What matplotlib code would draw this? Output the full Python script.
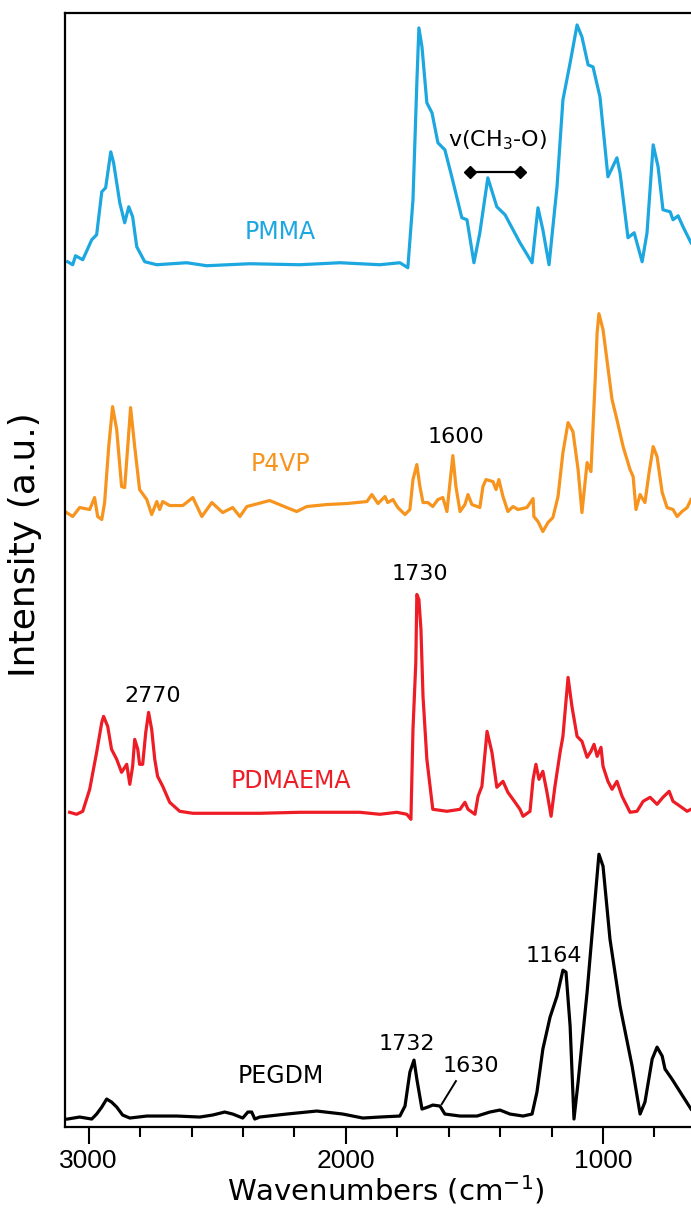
import matplotlib
matplotlib.use("Agg")
import matplotlib.pyplot as plt
from matplotlib.ticker import MultipleLocator

# ---- data (wavenumber in cm-1, intensity in a.u. relative to each spectrum's baseline) ----
pmma_wn = [3082, 3062, 3051, 3023, 2988, 2969, 2949, 2934, 2914, 2903, 2879, 2860, 2844, 2829, 2813,
           2782, 2735, 2619, 2541, 2374, 2179, 2023, 1868, 1790, 1759, 1739, 1724, 1716, 1704, 1685,
           1665, 1642, 1615, 1588, 1549, 1529, 1502, 1479, 1448, 1413, 1381, 1323, 1276, 1253, 1234,
           1210, 1179, 1156, 1128, 1101, 1082, 1058, 1039, 1012, 981, 946, 934, 903, 879, 848, 829,
           805, 786, 767, 739, 728, 708, 689, 658]
pmma_int = [3, 0, 9, 5, 25, 30, 73, 77, 113, 102, 62, 42, 58, 48, 18,
            3, 0, 2, -1, 1, 0, 2, 0, 2, -3, 65, 182, 237, 218, 162,
            152, 122, 115, 88, 47, 45, 2, 32, 87, 58, 50, 22, 2, 57, 35,
            0, 78, 165, 202, 240, 228, 200, 198, 168, 88, 107, 92, 27, 32, 3, 32,
            120, 98, 55, 53, 45, 49, 38, 22]

p4vp_wn = [3086, 3062, 3035, 2996, 2977, 2965, 2949, 2938, 2922, 2907, 2891, 2872, 2860, 2848, 2837,
           2821, 2802, 2774, 2755, 2735, 2724, 2712, 2685, 2634, 2595, 2560, 2521, 2479, 2440, 2412,
           2385, 2296, 2230, 2191, 2152, 2074, 1996, 1918, 1899, 1875, 1848, 1837, 1817, 1798, 1770,
           1751, 1739, 1724, 1712, 1700, 1681, 1662, 1642, 1623, 1607, 1595, 1584, 1572, 1556, 1537,
           1525, 1510, 1479, 1467, 1455, 1428, 1416, 1405, 1389, 1370, 1350, 1331, 1296, 1272, 1269,
           1253, 1234, 1214, 1195, 1175, 1156, 1136, 1117, 1097, 1082, 1062, 1047, 1031, 1023, 1016,
           1000, 985, 965, 946, 922, 895, 883, 872, 856, 837, 821, 805, 790, 770, 751,
           728, 712, 693, 673, 658]
p4vp_int = [-5, -9, 0, -2, 10, -9, -12, 5, 61, 101, 78, 21, 20, 61, 100,
            61, 18, 8, -7, 6, -2, 6, 2, 2, 10, -9, 5, -5, 0, -9,
            1, 7, 0, -4, 1, 3, 4, 6, 13, 4, 11, 5, 8, 0, -7,
            -2, 28, 43, 21, 5, 5, 1, 8, 10, -4, 25, 52, 21, -4, 3,
            13, 3, 0, 21, 28, 26, 18, 28, 11, -4, 1, -2, 0, 9, -9,
            -14, -24, -15, -10, 11, 55, 85, 76, 38, -5, 45, 36, 125, 175, 194,
            178, 148, 108, 88, 61, 38, 31, -2, 13, 5, 35, 61, 51, 15, 0,
            -2, -9, -4, 0, 8]

pdmaema_wn = [3074, 3047, 3023, 2996, 2969, 2949, 2942, 2926, 2911, 2891, 2872, 2852, 2840, 2829, 2821,
              2809, 2802, 2790, 2778, 2767, 2755, 2743, 2732, 2712, 2685, 2646, 2595, 2335, 2179, 1946,
              1868, 1802, 1763, 1747, 1739, 1728, 1724, 1716, 1708, 1700, 1685, 1662, 1607, 1556, 1537,
              1525, 1498, 1486, 1471, 1451, 1432, 1413, 1389, 1370, 1342, 1323, 1311, 1284, 1272, 1261,
              1249, 1234, 1218, 1202, 1187, 1167, 1156, 1136, 1121, 1101, 1082, 1062, 1047, 1035, 1023,
              1008, 1000, 981, 965, 946, 926, 895, 868, 844, 817, 790, 767, 743, 728, 700,
              673, 658]
pdmaema_int = [1, -1, 2, 24, 61, 91, 97, 87, 64, 54, 41, 49, 29, 47, 74,
               64, 49, 49, 81, 101, 84, 54, 37, 27, 11, 2, 0, 0, 1, 1,
               -1, 1, -1, -6, 84, 151, 219, 214, 184, 117, 54, 4, 2, 4, 11,
               4, -1, 17, 27, 82, 61, 26, 32, 21, 11, 4, -3, 2, 34, 49,
               34, 42, 21, -3, 27, 61, 77, 136, 107, 77, 72, 56, 62, 69, 57,
               66, 47, 32, 24, 32, 17, 1, 2, 12, 16, 9, 16, 22, 12, 7,
               2, 4]

pegdm_wn = [3082, 3035, 2988, 2969, 2949, 2930, 2911, 2891, 2868, 2840, 2774, 2658, 2568, 2518, 2471,
            2440, 2401, 2381, 2366, 2354, 2335, 2230, 2113, 2012, 1934, 1868, 1790, 1770, 1751, 1735,
            1724, 1704, 1681, 1662, 1634, 1615, 1556, 1490, 1440, 1401, 1362, 1311, 1276, 1257, 1234,
            1206, 1179, 1156, 1144, 1128, 1113, 1097, 1062, 1031, 1016, 1000, 973, 934, 887, 856,
            837, 809, 790, 770, 759, 732, 700, 658]
pegdm_int = [-2, 0, -2, 3, 10, 18, 15, 10, 2, -1, 1, 1, 0, 2, 5,
             3, -1, 5, 5, -2, 0, 3, 6, 3, -1, 0, 1, 11, 45, 57,
             38, 8, 10, 12, 11, 3, 1, 1, 5, 7, 3, 1, 3, 25, 68,
             100, 121, 147, 145, 91, -2, 35, 125, 218, 263, 251, 178, 111, 51, 3,
             15, 58, 70, 61, 48, 38, 25, 8]

series_names = ["PMMA", "P4VP", "PDMAEMA", "PEGDM"]
series_wn = [pmma_wn, p4vp_wn, pdmaema_wn, pegdm_wn]
series_int = [pmma_int, p4vp_int, pdmaema_int, pegdm_int]

x_major_ticks = [3000, 2000, 1000]

# ---- layout / style ----
colors = ["#1CA7E0", "#F7941E", "#EE1C25", "#000000"]
offsets = [863, 620, 314, 10]
label_pos = [(2257, 896), (2253, 664), (2214, 346), (2253, 51)]

fig = plt.figure(figsize=(6.91, 12.09), dpi=100)
ax = fig.add_axes([65 / 691, 0.0678, 1 - 65 / 691, 0.9215])

for name, wn, inten, c, off, lp in zip(series_names, series_wn, series_int, colors, offsets, label_pos):
    ax.plot(wn, [v + off for v in inten], color=c, lw=2.3, solid_joinstyle="round")
    ax.text(lp[0], lp[1], name, color=c, fontsize=17, ha="center", va="center",
            family="DejaVu Sans")

ann_fs = 16
ax.text(1412, 988, r"v(CH$_3$-O)", fontsize=ann_fs, ha="center", va="center")
ax.plot([1518, 1323], [956, 956], color="black", lw=1.6, marker="D", markersize=6)
ax.text(1572, 691, "1600", fontsize=ann_fs, ha="center", va="center")
ax.text(2751, 431, "2770", fontsize=ann_fs, ha="center", va="center")
ax.text(1712, 553, "1730", fontsize=ann_fs, ha="center", va="center")
ax.text(1763, 83, "1732", fontsize=ann_fs, ha="center", va="center")
ax.text(1514, 61, "1630", fontsize=ann_fs, ha="center", va="center")
ax.plot([1572, 1627], [46, 23], color="black", lw=1.4)
ax.text(1191, 171, "1164", fontsize=ann_fs, ha="center", va="center")

ax.set_xlim(3092, 658)
ax.set_ylim(0, 1115)
ax.set_yticks([])
ax.xaxis.set_major_locator(plt.FixedLocator(x_major_ticks))
ax.xaxis.set_minor_locator(MultipleLocator(200))
ax.tick_params(axis="x", which="major", direction="out", length=12, width=1.5, pad=4,
               labelsize=19)
ax.tick_params(axis="x", which="minor", direction="out", length=7, width=1.5)
for lab in ax.get_xticklabels():
    lab.set_family("Liberation Sans")
for s in ["left", "top", "bottom"]:
    ax.spines[s].set_linewidth(1.6)
ax.spines["right"].set_visible(False)

fig.text(386 / 691, 1 - 1190 / 1209, r"Wavenumbers (cm$^{-1}$)", fontsize=21,
         ha="center", va="center")
fig.text(25 / 691, 1 - 545 / 1209, "Intensity (a.u.)", fontsize=26, rotation=90,
         ha="center", va="center")

fig.savefig("out.png", dpi=100)
